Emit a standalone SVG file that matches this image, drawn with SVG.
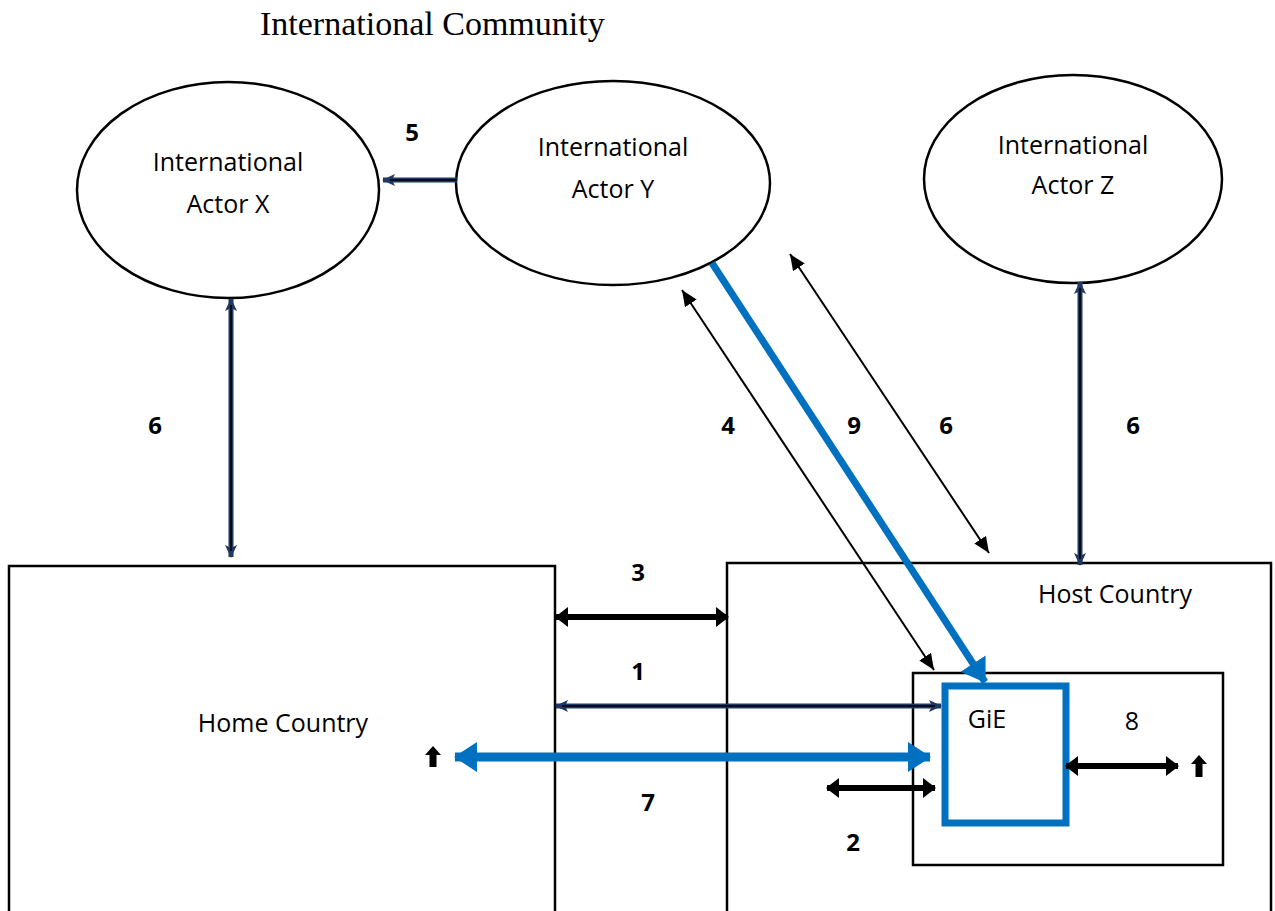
<svg xmlns="http://www.w3.org/2000/svg" width="1275" height="911" viewBox="0 0 1275 911">
<style>
.lbl{font-family:"Open Sans","Noto Sans",sans-serif;font-size:25px;fill:#000}
.num{font-family:"Open Sans","Noto Sans",sans-serif;font-size:24px;font-weight:bold;fill:#000}
.shape{fill:#fff;stroke:#000;stroke-width:2.5}
.navy{stroke:#1F3864;stroke-width:5;fill:none}
.core{stroke:#000;stroke-width:1.6;fill:none}
.thin{stroke:#000;stroke-width:2;fill:none}
.thick{stroke:#000;stroke-width:6;fill:none}
.blue{stroke:#0070C0;fill:none}
</style>
<defs>
<marker id="mNavy" markerUnits="userSpaceOnUse" markerWidth="14" markerHeight="14" refX="12" refY="7" orient="auto-start-reverse" viewBox="0 0 14 14">
<path d="M0,1 L13,7 L0,13 L3,7 Z" fill="#1F3864"/>
</marker>
<marker id="mThin" markerUnits="userSpaceOnUse" markerWidth="16" markerHeight="14" refX="16" refY="7" orient="auto-start-reverse" viewBox="0 0 16 14">
<path d="M0,0 L16,7 L0,14 Z" fill="#000"/>
</marker>
<marker id="mThick" markerUnits="userSpaceOnUse" markerWidth="14" markerHeight="20" refX="12" refY="10" orient="auto-start-reverse" viewBox="0 0 14 20">
<path d="M0,0 L13,10 L0,20 Z" fill="#000"/>
</marker>
<marker id="mBlue" markerUnits="userSpaceOnUse" markerWidth="24" markerHeight="30" refX="22" refY="15" orient="auto-start-reverse" viewBox="0 0 24 30">
<path d="M0,0 L23,15 L0,30 Z" fill="#0070C0"/>
</marker>
</defs>

<text x="260" y="35" font-family="Liberation Serif, serif" font-size="34">International Community</text>

<g id="actorX">
<ellipse class="shape" cx="228" cy="190" rx="151" ry="108"/>
<text class="lbl" x="228" y="171" text-anchor="middle">International</text>
<text class="lbl" x="228" y="213" text-anchor="middle">Actor X</text>
</g>
<g id="actorY">
<ellipse class="shape" cx="613" cy="183" rx="157" ry="102"/>
<text class="lbl" x="613" y="156" text-anchor="middle">International</text>
<text class="lbl" x="613" y="198" text-anchor="middle">Actor Y</text>
</g>
<g id="actorZ">
<ellipse class="shape" cx="1073" cy="179" rx="149" ry="104"/>
<text class="lbl" x="1073" y="154" text-anchor="middle">International</text>
<text class="lbl" x="1073" y="194" text-anchor="middle">Actor Z</text>
</g>
<g id="homeCountry">
<rect class="shape" x="9" y="566" width="546" height="360"/>
<text class="lbl" x="283" y="732" text-anchor="middle">Home Country</text>
</g>
<g id="hostCountry">
<rect class="shape" x="727" y="563" width="544" height="360"/>
<text class="lbl" x="1115" y="603" text-anchor="middle">Host Country</text>
</g>
<g id="hostInner">
<rect class="shape" x="913" y="673" width="310" height="192"/>
</g>
<g id="gie">
<rect x="945" y="686" width="121" height="137" fill="#fff" stroke="#0070C0" stroke-width="7"/>
<text class="lbl" x="987" y="728" text-anchor="middle">GiE</text>
</g>

<g id="connectors">
<line class="navy" x1="457" y1="180" x2="383" y2="180" marker-end="url(#mNavy)"/>
<line class="core" x1="457" y1="180" x2="390" y2="180"/>
<line class="navy" x1="231" y1="299" x2="231" y2="557" marker-start="url(#mNavy)" marker-end="url(#mNavy)"/>
<line class="core" x1="231" y1="305" x2="231" y2="551"/>
<line class="navy" x1="1080" y1="282" x2="1080" y2="565" marker-start="url(#mNavy)" marker-end="url(#mNavy)"/>
<line class="core" x1="1080" y1="288" x2="1080" y2="559"/>
<line class="navy" x1="556" y1="706" x2="941" y2="706" marker-start="url(#mNavy)" marker-end="url(#mNavy)"/>
<line class="core" x1="562" y1="706" x2="935" y2="706"/>
<line class="thick" x1="556" y1="617" x2="728" y2="617" marker-start="url(#mThick)" marker-end="url(#mThick)"/>
<line class="thick" x1="827" y1="788" x2="935" y2="788" marker-start="url(#mThick)" marker-end="url(#mThick)"/>
<line class="thick" x1="1066" y1="766" x2="1178" y2="766" marker-start="url(#mThick)" marker-end="url(#mThick)"/>
<line class="blue" stroke-width="9" x1="455" y1="757" x2="930" y2="757" marker-start="url(#mBlue)" marker-end="url(#mBlue)"/>
<line class="thin" x1="682" y1="290" x2="934" y2="670" marker-start="url(#mThin)" marker-end="url(#mThin)"/>
<line class="thin" x1="790" y1="254" x2="989" y2="553" marker-start="url(#mThin)" marker-end="url(#mThin)"/>
<line class="blue" stroke-width="7" x1="712" y1="263" x2="985" y2="682" marker-end="url(#mBlue)"/>
<path d="M433,746 L441,755 L436.5,755 L436.5,767 L429.5,767 L429.5,755 L425,755 Z" fill="#000"/>
<path d="M1199,755 L1207,764 L1202.5,764 L1202.5,777 L1195.5,777 L1195.5,764 L1191,764 Z" fill="#000"/>
</g>

<g id="labels">
<text class="num" x="412" y="141" text-anchor="middle">5</text>
<text class="num" x="155" y="434" text-anchor="middle">6</text>
<text class="num" x="728" y="434" text-anchor="middle">4</text>
<text class="num" x="854" y="434" text-anchor="middle">9</text>
<text class="num" x="946" y="434" text-anchor="middle">6</text>
<text class="num" x="1133" y="434" text-anchor="middle">6</text>
<text class="num" x="638" y="581" text-anchor="middle">3</text>
<text class="num" x="638" y="680" text-anchor="middle">1</text>
<text class="num" x="648" y="811" text-anchor="middle">7</text>
<text class="num" x="853" y="851" text-anchor="middle">2</text>
<text class="lbl" x="1132" y="730" text-anchor="middle">8</text>
</g>
</svg>
